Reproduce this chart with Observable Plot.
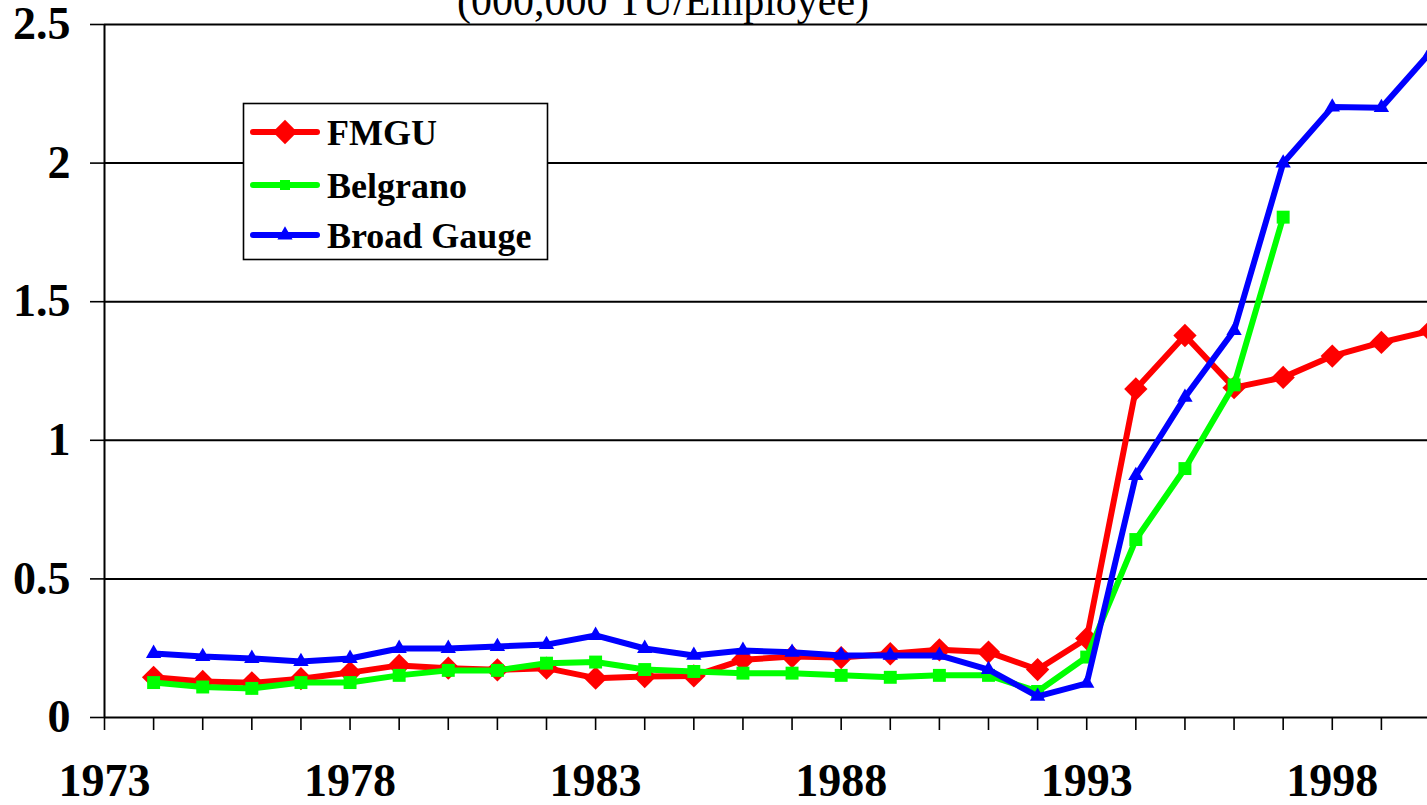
<!DOCTYPE html>
<html>
<head>
<meta charset="utf-8">
<script src="https://cdn.jsdelivr.net/npm/d3@7"></script>
<script src="https://cdn.jsdelivr.net/npm/@observablehq/plot@0.6"></script>
<style>
  html, body { margin: 0; padding: 0; background: white; overflow: hidden; }
</style>
</head>
<body>
<div id="chart"></div>
<script>
const years = [1974,1975,1976,1977,1978,1979,1980,1981,1982,1983,1984,1985,1986,1987,1988,1989,1990,1991,1992,1993,1994,1995,1996,1997,1998,1999,2000];
const fmgu = [0.145,0.13,0.125,0.14,0.162,0.188,0.178,0.172,0.178,0.142,0.148,0.15,0.208,0.22,0.216,0.23,0.244,0.236,0.173,0.285,1.185,1.378,1.19,1.227,1.304,1.353,1.395];
const belgrano = [0.126,0.11,0.105,0.126,0.126,0.152,0.17,0.17,0.196,0.2,0.173,0.166,0.16,0.16,0.152,0.145,0.152,0.152,0.094,0.218,0.642,0.898,1.2,1.805];
const broadGauge = [0.231,0.22,0.213,0.202,0.213,0.249,0.249,0.256,0.263,0.296,0.249,0.224,0.242,0.235,0.224,0.224,0.224,0.173,0.076,0.123,0.873,1.155,1.396,2.0,2.202,2.2,2.4];
const seriesNames = ["FMGU", "Belgrano", "Broad Gauge"];
const seriesColors = ["#ff0000", "#00ff00", "#0000ff"];
const yTicks = [0, 0.5, 1, 1.5, 2, 2.5];
const xLabelYears = [1973, 1978, 1983, 1988, 1993, 1998];
const allYears = d3.range(1973, 2001);
const subtitle = "(000,000 TU/Employee)";

const toRows = (vals) => vals.map((v, i) => ({year: years[i], value: v}));
const rowsF = toRows(fmgu), rowsB = toRows(belgrano), rowsG = toRows(broadGauge);

const font = "'Liberation Serif', 'Times New Roman', serif";

const chart = Plot.plot({
  width: 1427,
  height: 805,
  marginLeft: 104,
  marginRight: -3,
  marginTop: 24,
  marginBottom: 88,
  style: {fontFamily: font, fontWeight: "bold", background: "white", color: "black"},
  x: {domain: [1973, 2000], label: null},
  y: {domain: [0, 2.5], label: null},
  marks: [
    Plot.ruleY(yTicks, {stroke: "black", strokeWidth: 2}),
    Plot.ruleX([1973], {stroke: "black", strokeWidth: 2}),
    Plot.axisX({ticks: allYears, tickSize: 13, tickPadding: 33, fontSize: 46, label: null,
      tickFormat: d => xLabelYears.includes(d) ? String(d) : "", strokeWidth: 1.6}),
    Plot.axisY({ticks: yTicks, tickSize: 14, tickPadding: 20, fontSize: 46, strokeWidth: 1.6, label: null,
      tickFormat: d => String(d)}),
    Plot.line(rowsF, {x: "year", y: "value", stroke: seriesColors[0], strokeWidth: 6}),
    Plot.dot(rowsF, {x: "year", y: "value", symbol: "diamond2", r: 10.5, fill: seriesColors[0], stroke: null}),
    Plot.line(rowsB, {x: "year", y: "value", stroke: seriesColors[1], strokeWidth: 6}),
    Plot.dot(rowsB, {x: "year", y: "value", symbol: "square", r: 7.3, fill: seriesColors[1], stroke: null}),
    Plot.line(rowsG, {x: "year", y: "value", stroke: seriesColors[2], strokeWidth: 6}),
    Plot.dot(rowsG, {x: "year", y: "value", symbol: "triangle", r: 5.7, fill: seriesColors[2], stroke: null})
  ]
});

const svg = d3.select(chart);
// subtitle (cut off at the top)
svg.append("text")
  .attr("x", 663).attr("y", 15)
  .attr("text-anchor", "middle")
  .style("font-family", font).style("font-weight", "normal").style("font-size", "42px")
  .text(subtitle);

// legend
const lg = svg.append("g");
lg.append("rect").attr("x", 243.5).attr("y", 103.5).attr("width", 304).attr("height", 156)
  .attr("fill", "white").attr("stroke", "black").attr("stroke-width", 1.6);
const symbols = [d3.symbolDiamond2, d3.symbolSquare, d3.symbolTriangle];
const symSizes = [380, 100, 100];
seriesNames.forEach((name, i) => {
  const cy = [132, 185, 235][i];
  lg.append("line").attr("x1", 253).attr("x2", 317).attr("y1", cy).attr("y2", cy)
    .attr("stroke", seriesColors[i]).attr("stroke-width", 6).attr("stroke-linecap", "round");
  lg.append("path").attr("d", d3.symbol(symbols[i], symSizes[i])())
    .attr("transform", `translate(285,${cy})`).attr("fill", seriesColors[i]);
  lg.append("text").attr("x", 327).attr("y", cy).attr("dy", "0.35em")
    .attr("text-anchor", "start")
    .style("font-family", font).style("font-weight", "bold").style("font-size", "36px")
    .text(name);
});

document.getElementById("chart").appendChild(chart);
</script>
</body>
</html>
